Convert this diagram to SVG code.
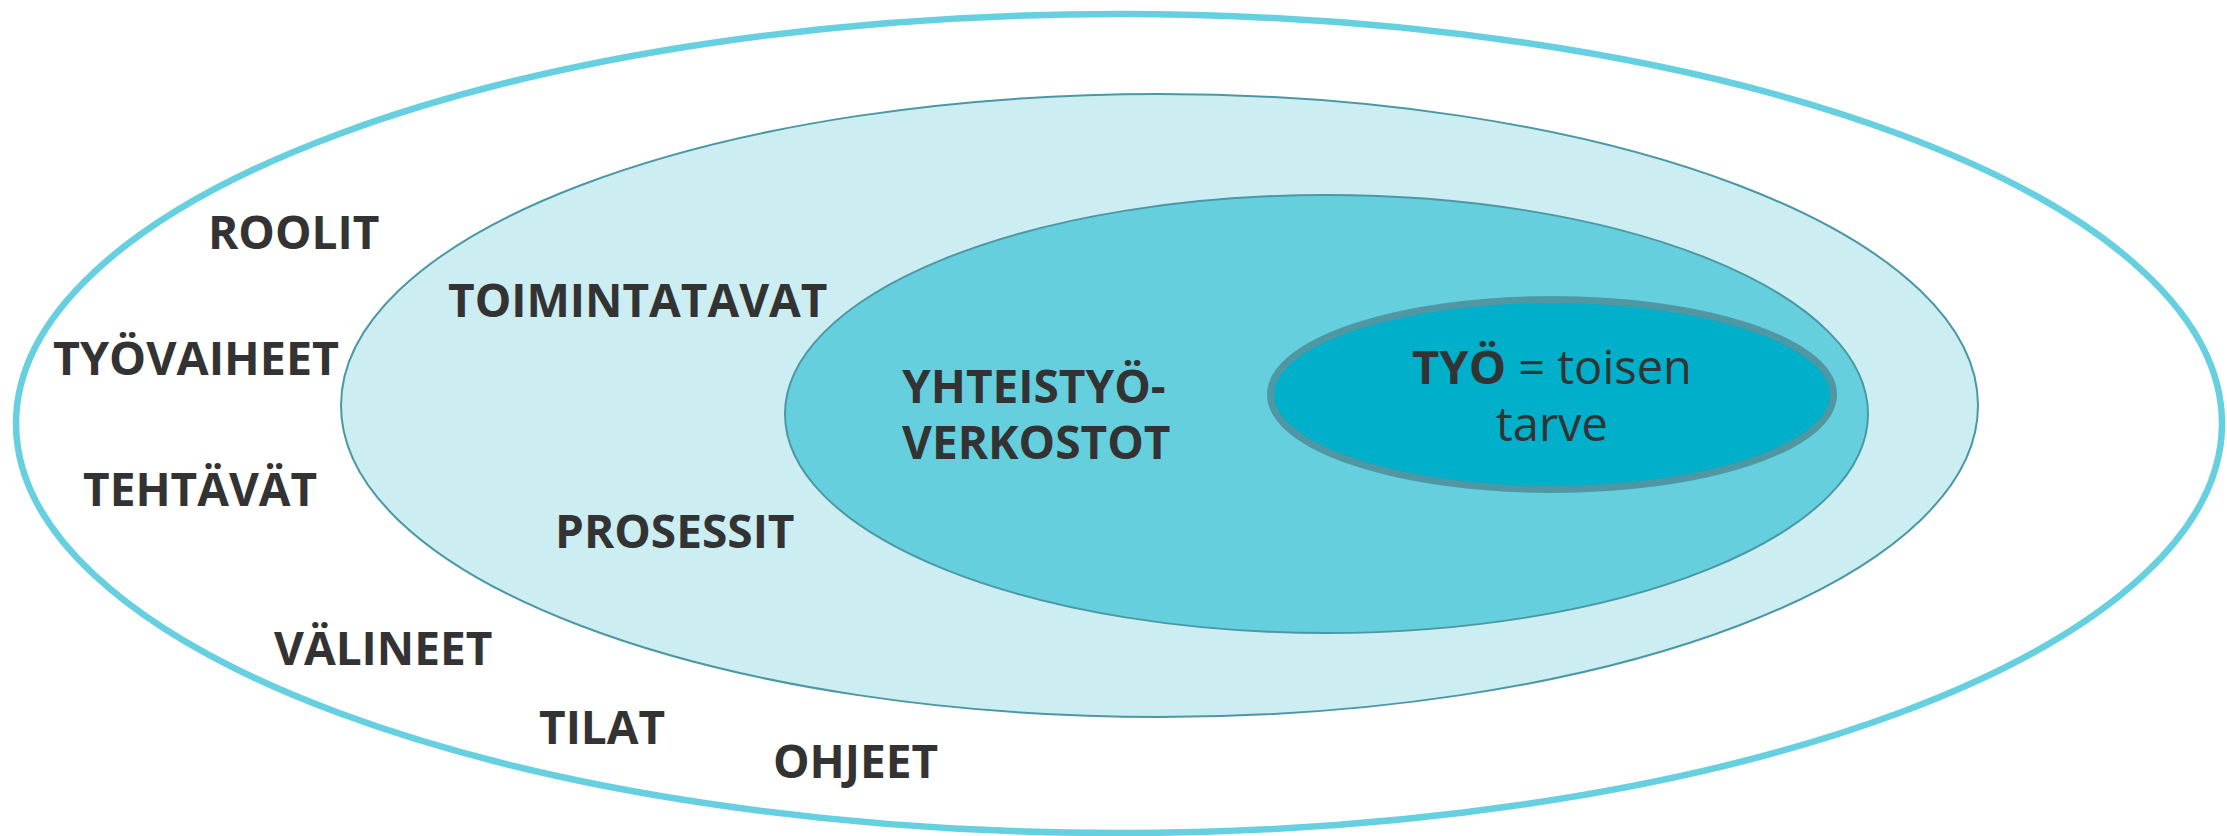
<svg xmlns="http://www.w3.org/2000/svg" width="2227" height="836" viewBox="0 0 2227 836">
  <style>
    .lbl { font-family: "Open Sans", "Noto Sans", "DejaVu Sans", sans-serif; font-weight: 700; font-size: 46px; fill: #333333; }
    .core { font-family: "Open Sans", "Noto Sans", "DejaVu Sans", sans-serif; font-size: 47px; fill: #333333; }
    .thin { stroke: #4a98a5; stroke-width: 2; }
  </style>
  <rect width="2227" height="836" fill="#ffffff"/>

  <!-- outermost ring: roles, phases, tasks, tools, spaces, instructions -->
  <g id="ring-outer">
    <ellipse cx="1119" cy="423.5" rx="1103" ry="409.5" fill="#ffffff" stroke="#66d0e0" stroke-width="6.5"/>
    <text class="lbl" x="208" y="249">ROOLIT</text>
    <text class="lbl" x="53" y="375" textLength="286" lengthAdjust="spacingAndGlyphs">TYÖVAIHEET</text>
    <text class="lbl" x="83" y="506">TEHTÄVÄT</text>
    <text class="lbl" x="274" y="665">VÄLINEET</text>
    <text class="lbl" x="539" y="744">TILAT</text>
    <text class="lbl" x="773" y="778">OHJEET</text>
  </g>

  <!-- practices and processes -->
  <g id="ring-practices">
    <ellipse class="thin" cx="1159.5" cy="405.5" rx="818.5" ry="311.5" fill="#cceef2"/>
    <text class="lbl" x="448" y="317">TOIMINTATAVAT</text>
    <text class="lbl" x="555" y="548">PROSESSIT</text>
  </g>

  <!-- collaboration networks -->
  <g id="ring-networks">
    <ellipse class="thin" cx="1326.5" cy="414" rx="541.5" ry="219" fill="#66cfde"/>
    <text class="lbl" x="902" y="403">YHTEISTYÖ-</text>
    <text class="lbl" x="902" y="459">VERKOSTOT</text>
  </g>

  <!-- core: work -->
  <g id="core-work">
    <ellipse cx="1552" cy="394.5" rx="281.5" ry="95" fill="#00afca" stroke="#4e97a3" stroke-width="7"/>
    <text class="core" x="1552" y="384" text-anchor="middle"><tspan font-weight="700">TYÖ</tspan> = toisen</text>
    <text class="core" x="1552" y="441" text-anchor="middle">tarve</text>
  </g>

  <g id="connectors"/>
</svg>
